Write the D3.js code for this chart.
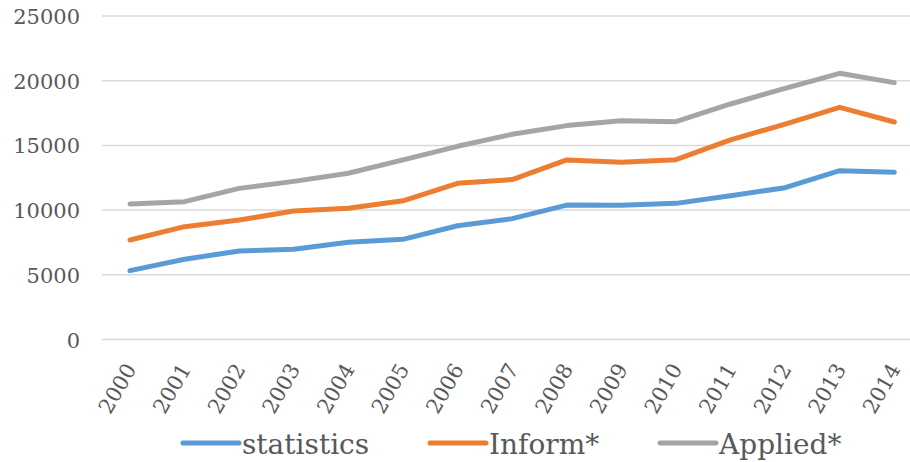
<!DOCTYPE html>
<html>
<head>
<meta charset="utf-8">
<script src="https://cdn.jsdelivr.net/npm/d3@7"></script>
<style>
  body { margin: 0; background: #fff; }
  svg text { font-family: "DejaVu Serif", serif; fill: #595959; }
</style>
</head>
<body>
<svg id="chart"></svg>
<script>
"use strict";

// data
const years = ["2000", "2001", "2002", "2003", "2004", "2005", "2006", "2007",
  "2008", "2009", "2010", "2011", "2012", "2013", "2014"];
const statistics = [5320, 6200, 6840, 6970, 7510, 7740, 8790, 9340,
  10390, 10380, 10520, 11110, 11730, 13050, 12920];
const inform = [7690, 8720, 9230, 9930, 10140, 10720, 12070, 12360,
  13880, 13690, 13900, 15420, 16650, 17940, 16810];
const applied = [10470, 10650, 11680, 12220, 12850, 13880, 14930, 15860,
  16530, 16910, 16830, 18200, 19410, 20570, 19850];
const yTicks = [0, 5000, 10000, 15000, 20000, 25000];

const series = [
  { name: "statistics", values: statistics, color: "#5B9BD5" },
  { name: "Inform*", values: inform, color: "#ED7D31" },
  { name: "Applied*", values: applied, color: "#A5A5A5" }
];

const W = 910, H = 462;
const svg = d3.select("#chart").attr("width", W).attr("height", H);

// plot area runs past the right edge (picture is cropped there)
const x = d3.scaleBand().domain(years).range([102.7, 921.6]);
const y = d3.scaleLinear().domain([0, 25000]).range([339.5, 16]);
const xc = d => x(d) + x.bandwidth() / 2;

// gridlines
svg.append("g")
  .selectAll("line")
  .data(yTicks)
  .join("line")
  .attr("x1", 102).attr("x2", W)
  .attr("y1", d => y(d)).attr("y2", d => y(d))
  .attr("stroke", "#D9D9D9")
  .attr("stroke-width", 1.5);

// y labels
svg.append("g")
  .selectAll("text")
  .data(yTicks)
  .join("text")
  .attr("x", 80)
  .attr("y", d => y(d) + 8)
  .attr("text-anchor", "end")
  .attr("font-size", 21)
  .text(d => d);

// x labels, rotated
svg.append("g")
  .selectAll("text")
  .data(years)
  .join("text")
  .attr("transform", d => `translate(${xc(d) + 7},369) rotate(-60)`)
  .attr("text-anchor", "end")
  .attr("font-size", 21)
  .text(d => d);

// lines
const line = d3.line()
  .x((v, i) => xc(years[i]))
  .y(v => y(v));

svg.append("g")
  .selectAll("path")
  .data(series)
  .join("path")
  .attr("d", s => line(s.values))
  .attr("fill", "none")
  .attr("stroke", s => s.color)
  .attr("stroke-width", 5)
  .attr("stroke-linejoin", "round")
  .attr("stroke-linecap", "round");

// legend, entry start positions as in the picture
const legendX = [183, 430, 660];
const lg = svg.append("g");
series.forEach((s, i) => {
  const lx = legendX[i];
  lg.append("line")
    .attr("x1", lx).attr("x2", lx + 56)
    .attr("y1", 443).attr("y2", 443)
    .attr("stroke", s.color)
    .attr("stroke-width", 5)
    .attr("stroke-linecap", "round");
  lg.append("text")
    .attr("x", lx + 59)
    .attr("y", 454)
    .attr("font-size", 28)
    .text(s.name);
});
</script>
</body>
</html>
